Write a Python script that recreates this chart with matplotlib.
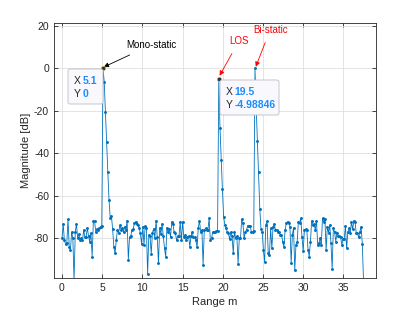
import numpy as np
import matplotlib
matplotlib.use("Agg")
import matplotlib.pyplot as plt
from matplotlib.patches import FancyBboxPatch

plt.rcParams['font.family'] = ['Liberation Sans', 'DejaVu Sans']
plt.rcParams['axes.unicode_minus'] = False

step = 0.15
mag_db = [
    -80, -73.3, -81, -82.7, -82, -71, -84, -85.5, -77, -80,
    -100, -77, -73.3, -80, -78, -81, -80, -81, -76, -79.5,
    -79.5, -75, -79, -81.5, -77.5, -88.6, -72, -72, -77, -75.5,
    -76, -75, -74.5, -74, 0, -6.3, -20.8, -34.8, -48.8, -62,
    -70.6, -69.5, -75.8, -84, -87, -81, -76, -77.3, -73.8, -76,
    -75, -77, -74.5, -76, -71.7, -90, -79.5, -79, -76, -75.8,
    -73, -72.2, -73.3, -73.8, -75, -77.7, -82.7, -74.5, -83, -74,
    -75, -96.7, -78.4, -79, -87.3, -77.3, -75.5, -80, -71.7, -79.5,
    -91.7, -75, -78, -73.3, -79, -84.7, -88.6, -75, -77, -75.8,
    -79.5, -72.2, -73.3, -77, -77.3, -81, -79, -79, -72.2, -81,
    -72.2, -79.5, -78.4, -81, -79.5, -79, -84, -79, -77, -79.5,
    -79.5, -81, -84.2, -75, -71.7, -77, -76, -92.5, -76, -75.3,
    -76, -76, -70.6, -80.8, -80, -77, -77, -77, -76.6, -76.6,
    -4.98846, -28, -43, -57, -69.8, -73.5, -75, -77, -77.5, -80.5,
    -77, -79, -87, -77, -80, -79, -92, -80, -80, -71,
    -73, -80, -77, -76, -74, -74, -74, -77, -77, -76.5,
    0, -18, -34, -49, -66, -75.5,
    -77, -85.5, -91, -73.7, -72, -86.7, -88, -75.3, -84.7, -74.5,
    -73.3, -76, -76, -77, -77, -78.4, -78.4, -81.5, -84, -76,
    -72.7, -72.2, -72.7, -74.5, -91.7, -78.4, -75, -95, -83, -81.5,
    -72.2, -72.7, -70.6, -79.5, -86, -76, -75.8, -76, -85.5, -88.6,
    -81.5, -71.7, -73.7, -73.3, -76, -71.7, -83, -82.3, -80, -83,
    -70.6, -72.2, -71, -85.5, -74.5, -77.3, -73.7, -82.3, -94.5, -75,
    -77, -81.5, -77.3, -79, -79, -79.5, -83, -80.5, -80.5, -74,
    -84.7, -77, -75.3, -77.7, -72.2, -75.8, -71.7, -72.2, -77.7, -77.7,
    -79.5, -77, -74.5, -82.7, -100,
]
range_m = [round(i * step, 2) for i in range(len(mag_db))]

tip_x = [5.1, 19.5]
tip_y = [0, -4.98846]
tip_x_txt = ['5.1', '19.5']
tip_y_txt = ['0', '-4.98846']
xticks = [0, 5, 10, 15, 20, 25, 30, 35]
yticks = [-80, -60, -40, -20, 0, 20]

W, H = 415, 312
fig = plt.figure(figsize=(W / 100, H / 100), dpi=100)
ax = fig.add_axes([0.130, 0.110, 0.775, 0.815])


def fx(px):
    return px / W


def fy(py):
    return 1 - py / H


line_c = '#0072BD'
ax.plot(range_m, mag_db, color=line_c, lw=0.6, marker='.', ms=2.2, zorder=3)

ax.set_xlim(-1, 39)
ax.set_ylim(-98.5, 21.1)
ax.set_xticks(xticks)
ax.set_yticks(yticks)
ax.grid(True, color='#dfdfdf', lw=0.6)
ax.set_axisbelow(True)
ax.tick_params(direction='in', top=True, right=True, labelsize=7.5,
               colors='#262626', length=3, width=0.6)
for s in ax.spines.values():
    s.set_color('#262626')
    s.set_linewidth(0.6)
ax.set_xlabel('Range m', fontsize=8, color='#262626', labelpad=3)
ax.set_ylabel('Magnitude [dB]', fontsize=8, color='#262626', labelpad=2)

# datatip markers
ax.plot(tip_x, tip_y, 'o', ms=3.2, mfc='#333333', mec='#e0c060', mew=0.5, zorder=5)

# datatip boxes (figure pixel layout)
boxes = [(68, 69, 103, 104, 73.5, 82.5, 81, 94),
         (220, 80, 279, 115, 225.5, 234.5, 92, 105)]
for k, (x0, y0, x1, y1, tx, vx, r1, r2) in enumerate(boxes):
    p = FancyBboxPatch((fx(x0), fy(y1)), fx(x1) - fx(x0), fy(y0) - fy(y1),
                       boxstyle='round,pad=0,rounding_size=0.006',
                       transform=fig.transFigure, fc='#f9f9fd', ec='#bdbdc6',
                       lw=0.6, zorder=10)
    fig.patches.append(p)
    fig.text(fx(tx), fy(r1), 'X', fontsize=7.5, color='#262626',
             ha='left', va='center', zorder=11)
    fig.text(fx(tx), fy(r2), 'Y', fontsize=7.5, color='#262626',
             ha='left', va='center', zorder=11)
    fig.text(fx(vx), fy(r1), tip_x_txt[k], fontsize=7.5, color='#1a8cff',
             fontweight='bold', ha='left', va='center', zorder=11)
    fig.text(fx(vx), fy(r2), tip_y_txt[k], fontsize=7.5, color='#1a8cff',
             fontweight='bold', ha='left', va='center', zorder=11)

# arrows with labels
ax.annotate('Mono-static', xy=(5.2, 0.6), xytext=(8.0, 11.0),
            fontsize=7, color='black', ha='left', va='center',
            arrowprops=dict(arrowstyle='-|>', color='black', lw=0.6,
                            mutation_scale=7, shrinkA=4, shrinkB=0))
ax.annotate('LOS', xy=(19.6, -3.5), xytext=(22.0, 12.8),
            fontsize=7, color='red', ha='center', va='center',
            arrowprops=dict(arrowstyle='-|>', color='red', lw=0.6,
                            mutation_scale=7, shrinkA=4, shrinkB=0))
ax.annotate('Bi-static', xy=(24.1, 0.7), xytext=(25.9, 18.2),
            fontsize=7, color='red', ha='center', va='center',
            arrowprops=dict(arrowstyle='-|>', color='red', lw=0.6,
                            mutation_scale=7, shrinkA=4, shrinkB=0))

fig.savefig('out.png', dpi=100)
